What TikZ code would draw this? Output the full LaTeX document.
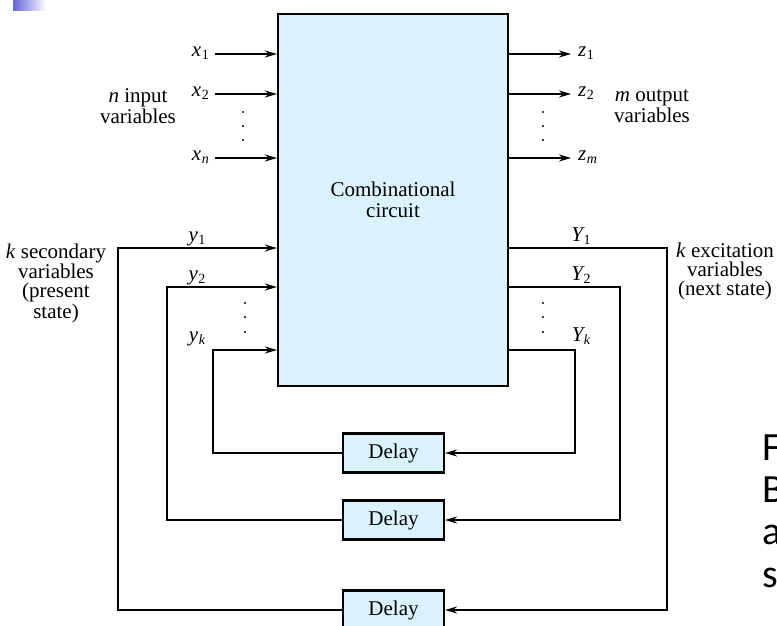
\documentclass[tikz,border=0pt]{standalone}
\usepackage{fontspec}
\setmainfont{Liberation Serif}
\newfontfamily\slidefont{Carlito}
\usetikzlibrary{arrows.meta,calc}

\definecolor{boxfill}{RGB}{218,242,252}
\definecolor{bulletblue}{RGB}{100,100,215}

% italic letter with an upright subscript
\newcommand{\vsub}[2]{{\itshape #1}\kern0.5pt\raisebox{-0.35ex}{\fontsize{14}{14}\selectfont #2}}
\newcommand{\vsubit}[2]{{\itshape #1}\kern0.5pt\raisebox{-0.35ex}{\fontsize{14}{14}\selectfont\itshape #2}}

\begin{document}
\begin{tikzpicture}[x=1pt,y=-1pt,
  every node/.style={font=\fontsize{21}{19}\selectfont, inner sep=0pt},
  blockbox/.style={draw, line width=2.2pt, fill=boxfill},
  wire/.style={line width=1.7pt},
  arr/.style={wire, -{Stealth[length=12pt,width=7pt]}},
  dotmark/.style={circle, fill=black, minimum size=2.4pt, inner sep=0pt}
]
\clip (0,0) rectangle (777,625);
\fill[white] (0,0) rectangle (777,625);

% slide bullet decoration
\shade[left color=bulletblue, right color=white] (13,0) rectangle (46,10);

% combinational block
\node[blockbox, minimum width=230pt, minimum height=372pt, align=center,
      font=\fontsize{21}{21}\selectfont] (cc) at (393,200)
  {Combinational\\circuit};

% delay elements
\node[blockbox, minimum width=101pt, minimum height=39pt] (d1) at (393.5,453) {Delay};
\node[blockbox, minimum width=101pt, minimum height=39pt] (d2) at (393.5,520) {Delay};
\node[blockbox, minimum width=101pt, minimum height=39pt] (d3) at (393.5,610) {Delay};

% primary inputs
\coordinate (xa) at (215,54);
\coordinate (xb) at (215,94);
\coordinate (xc) at (215,158);
\draw[arr] (xa) -- (xa -| cc.west);
\draw[arr] (xb) -- (xb -| cc.west);
\draw[arr] (xc) -- (xc -| cc.west);
\node[anchor=mid east] (lx1) at (209,54) {\vsub{x}{1}};
\node[anchor=mid east] (lx2) at (209,94) {\vsub{x}{2}};
\node[anchor=mid east] (lxn) at (209,158) {\vsubit{x}{n}};
\node[dotmark] (dl1) at (243,112) {};
\node[dotmark] (dl2) at (243,126) {};
\node[dotmark] (dl3) at (243,140) {};
\node[align=center, anchor=base] (nin) at (138,123) {\textit{n} input\\variables};

% primary outputs
\coordinate (za) at (571,54);
\coordinate (zb) at (571,94);
\coordinate (zc) at (571,158);
\draw[arr] (za -| cc.east) -- (za);
\draw[arr] (zb -| cc.east) -- (zb);
\draw[arr] (zc -| cc.east) -- (zc);
\node[anchor=mid west] (lz1) at (578,54) {\vsub{z}{1}};
\node[anchor=mid west] (lz2) at (578,94) {\vsub{z}{2}};
\node[anchor=mid west] (lzm) at (578,158) {\vsubit{z}{m}};
\node[dotmark] (dr1) at (543,112) {};
\node[dotmark] (dr2) at (543,126) {};
\node[dotmark] (dr3) at (543,140) {};
\node[align=center, anchor=base] (mout) at (652,122) {\textit{m} output\\variables};

% feedback loops: excitation -> delay -> secondary variable
\coordinate (ya) at (118,248);
\coordinate (yb) at (167,287);
\coordinate (yc) at (213,350);
\coordinate (Ya) at (667,248);
\coordinate (Yb) at (620,287);
\coordinate (Yc) at (575,350);

\draw[arr] (Ya -| cc.east) -- (Ya) -- (Ya |- d3) -- (d3.east);
\draw[arr] (d3.west) -- (ya |- d3) -- (ya) -- (ya -| cc.west);
\draw[arr] (Yb -| cc.east) -- (Yb) -- (Yb |- d2) -- (d2.east);
\draw[arr] (d2.west) -- (yb |- d2) -- (yb) -- (yb -| cc.west);
\draw[arr] (Yc -| cc.east) -- (Yc) -- (Yc |- d1) -- (d1.east);
\draw[arr] (d1.west) -- (yc |- d1) -- (yc) -- (yc -| cc.west);

\node[anchor=base] (ly1) at (197,241) {\vsub{y}{1}};
\node[anchor=base] (ly2) at (197,280) {\vsub{y}{2}};
\node[anchor=base] (lyk) at (197,341) {\vsubit{y}{k}};
\node[anchor=base] (lY1) at (581,241) {\vsub{Y}{1}};
\node[anchor=base] (lY2) at (581,280) {\vsub{Y}{2}};
\node[anchor=base] (lYk) at (581,341) {\vsubit{Y}{k}};

\node[dotmark] (ds1) at (245,303) {};
\node[dotmark] (ds2) at (245,317) {};
\node[dotmark] (ds3) at (245,332) {};
\node[dotmark] (de1) at (543,303) {};
\node[dotmark] (de2) at (543,317) {};
\node[dotmark] (de3) at (543,332) {};

\node[align=center, anchor=base] (ksec) at (56,318)
  {\textit{k} secondary\\variables\\(present\\state)};
\node[align=center, anchor=base] (kexc) at (725,295)
  {\textit{k} excitation\\variables\\(next state)};

% slide caption (runs off the right edge)
\node[anchor=base west, font=\slidefont\fontsize{40}{42.3}\selectfont, align=left] (cap) at (762,587)
  {F\\B\\a\\s};
\end{tikzpicture}
\end{document}
